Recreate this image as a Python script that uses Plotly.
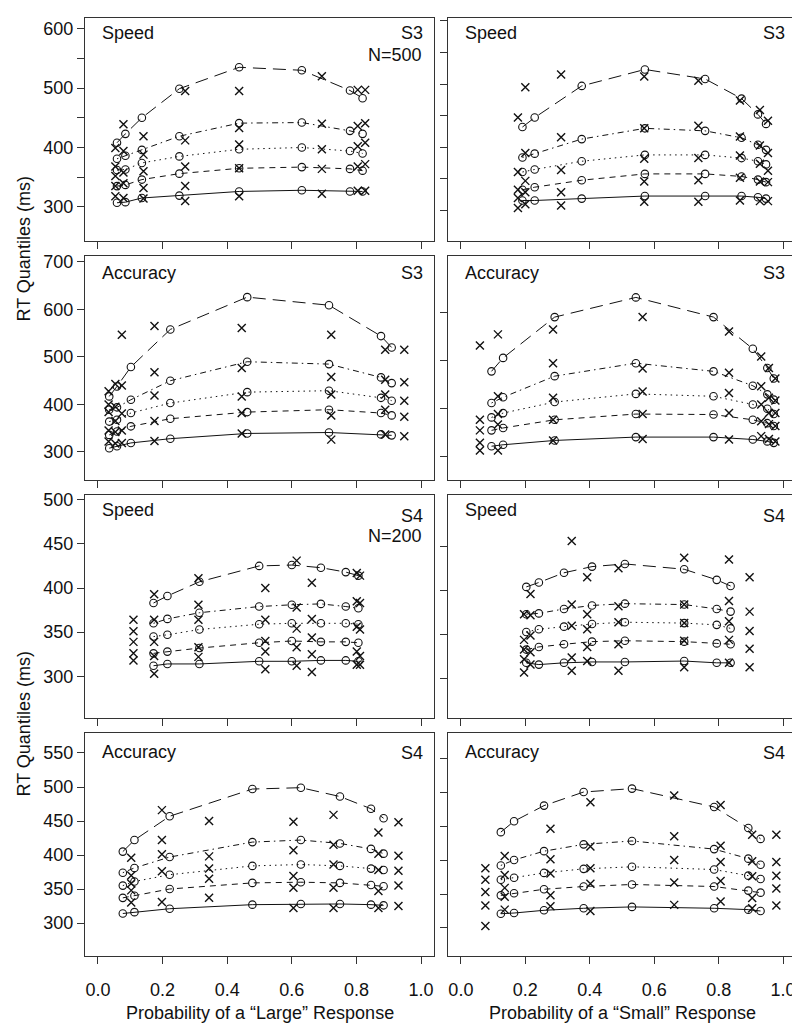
import plotly.graph_objects as go

# ---------------- data (quantiles per condition: .1 .3 .5 .7 .9) ----------------
quantile_levels = [0.1, 0.3, 0.5, 0.7, 0.9]

# Row 1 left: S3 Speed, "Large"
s3_speed_large_model_p = [0.059, 0.085, 0.136, 0.252, 0.437, 0.631, 0.780, 0.819]
s3_speed_large_model_q = [[307, 335, 362, 381, 408], [308, 337, 363, 386, 423], [315, 346, 374, 396, 450],
                          [319, 356, 385, 419, 499], [326, 365, 397, 441, 535], [328, 367, 400, 442, 530],
                          [326, 364, 394, 428, 496], [326, 361, 390, 423, 483]]
s3_speed_large_data_p = [0.054, 0.079, 0.141, 0.270, 0.437, 0.693, 0.804, 0.827]
s3_speed_large_data_q = [[318, 335, 352, 368, 399], [315, 340, 358, 394, 439], [314, 332, 360, 388, 419],
                         [310, 335, 368, 412, 495], [318, 365, 405, 433, 495], [322, 364, 397, 440, 520],
                         [327, 368, 402, 436, 497], [327, 372, 408, 441, 497]]

# Row 1 right: S3 Speed, "Small"
s3_speed_small_model_p = [0.191, 0.229, 0.375, 0.571, 0.758, 0.871, 0.922, 0.947]
s3_speed_small_model_q = [[316, 333, 361, 384, 432], [316, 337, 365, 390, 447], [319, 348, 378, 413, 497],
                          [323, 358, 388, 430, 523], [323, 358, 388, 426, 508], [323, 354, 383, 415, 477],
                          [321, 349, 378, 404, 452], [319, 345, 373, 396, 437]]
s3_speed_small_data_p = [0.177, 0.200, 0.311, 0.569, 0.737, 0.866, 0.928, 0.953]
s3_speed_small_data_q = [[304, 320, 333, 361, 447], [310, 329, 347, 391, 495], [308, 329, 364, 416, 515],
                         [314, 346, 382, 430, 512], [314, 348, 383, 434, 505], [316, 352, 387, 417, 474],
                         [315, 346, 374, 403, 459], [315, 345, 363, 391, 442]]

# Row 2 left: S3 Accuracy, "Large"
s3_acc_large_model_p = [0.035, 0.059, 0.102, 0.224, 0.462, 0.715, 0.876, 0.909]
s3_acc_large_model_q = [[308, 336, 364, 389, 417], [312, 343, 368, 394, 438], [319, 354, 382, 410, 479],
                        [328, 370, 403, 450, 558], [339, 384, 426, 490, 626], [341, 389, 429, 485, 609],
                        [337, 382, 414, 457, 544], [335, 377, 408, 445, 520]]
s3_acc_large_data_p = [0.033, 0.054, 0.074, 0.175, 0.445, 0.722, 0.889, 0.948]
s3_acc_large_data_q = [[322, 345, 384, 400, 428], [318, 342, 365, 395, 443], [319, 345, 381, 440, 547],
                       [323, 365, 419, 468, 565], [339, 382, 417, 477, 561], [326, 377, 421, 458, 547],
                       [337, 389, 421, 452, 515], [333, 374, 408, 447, 515]]

# Row 2 right: S3 Accuracy, "Small"
s3_acc_small_model_p = [0.095, 0.131, 0.291, 0.543, 0.784, 0.906, 0.951, 0.971]
s3_acc_small_model_q = [[321, 354, 381, 411, 477], [324, 359, 390, 423, 505], [333, 376, 413, 467, 590],
                        [340, 388, 430, 494, 631], [340, 387, 425, 477, 590], [335, 376, 408, 447, 524],
                        [331, 369, 399, 429, 484], [328, 363, 388, 418, 462]]
s3_acc_small_data_p = [0.059, 0.115, 0.286, 0.564, 0.832, 0.932, 0.956, 0.976]
s3_acc_small_data_q = [[312, 328, 354, 376, 531], [312, 366, 388, 425, 554], [333, 376, 422, 494, 564],
                       [336, 388, 435, 483, 590], [335, 390, 432, 474, 560], [342, 373, 408, 446, 508],
                       [336, 367, 390, 422, 484], [331, 363, 390, 416, 462]]

# Row 3 left: S4 Speed, "Large"
s4_speed_large_model_p = [0.172, 0.215, 0.314, 0.499, 0.600, 0.690, 0.767, 0.806]
s4_speed_large_model_q = [[312, 326, 345, 360, 383], [314, 328, 347, 365, 391], [314, 332, 353, 372, 407],
                          [317, 338, 359, 379, 425], [317, 340, 360, 381, 426], [318, 339, 360, 382, 423],
                          [318, 339, 360, 379, 418], [317, 338, 359, 377, 414]]
s4_speed_large_data_p = [0.110, 0.174, 0.311, 0.518, 0.615, 0.662, 0.801, 0.811]
s4_speed_large_data_q = [[318, 326, 339, 351, 364], [303, 323, 339, 364, 393], [322, 333, 364, 381, 411],
                         [308, 328, 340, 364, 400], [312, 333, 354, 378, 431], [305, 325, 344, 365, 406],
                         [313, 328, 356, 385, 417], [313, 323, 353, 383, 414]]

# Row 3 right: S4 Speed, "Small"
s4_speed_small_model_p = [0.203, 0.242, 0.320, 0.407, 0.509, 0.693, 0.794, 0.837]
s4_speed_small_model_q = [[318, 333, 353, 373, 404], [316, 336, 356, 374, 409], [318, 339, 359, 379, 420],
                          [319, 342, 362, 383, 427], [319, 343, 364, 385, 430], [320, 342, 363, 384, 424],
                          [318, 340, 361, 379, 412], [318, 339, 357, 376, 405]]
s4_speed_small_data_p = [0.196, 0.216, 0.344, 0.392, 0.489, 0.693, 0.832, 0.896]
s4_speed_small_data_q = [[307, 322, 333, 344, 373], [316, 330, 349, 372, 396], [309, 324, 360, 384, 456],
                         [320, 336, 356, 373, 415], [309, 339, 364, 382, 425], [313, 343, 363, 384, 437],
                         [318, 344, 365, 388, 435], [313, 334, 354, 376, 415]]

# Row 4 left: S4 Accuracy, "Large"
s4_acc_large_model_p = [0.077, 0.113, 0.222, 0.478, 0.628, 0.749, 0.845, 0.884]
s4_acc_large_model_q = [[314, 337, 355, 374, 405], [316, 340, 361, 381, 422], [321, 350, 371, 397, 457],
                        [327, 359, 384, 419, 497], [328, 360, 386, 422, 499], [328, 359, 384, 417, 486],
                        [327, 356, 380, 409, 468], [326, 354, 378, 402, 454]]
s4_acc_large_data_p = [0.103, 0.198, 0.344, 0.605, 0.729, 0.868, 0.930]
s4_acc_large_data_q = [[330, 348, 358, 370, 396], [331, 376, 401, 422, 466], [337, 365, 380, 398, 450],
                       [322, 352, 369, 407, 449], [322, 352, 386, 415, 459], [322, 347, 378, 402, 433],
                       [325, 355, 377, 399, 448]]

# Row 4 right: S4 Accuracy, "Small"
s4_acc_small_model_p = [0.124, 0.165, 0.258, 0.381, 0.531, 0.786, 0.892, 0.930]
s4_acc_small_model_q = [[321, 348, 371, 392, 441], [322, 351, 374, 400, 457], [326, 357, 381, 413, 480],
                        [329, 361, 387, 423, 500], [331, 364, 390, 428, 505], [329, 361, 386, 416, 478],
                        [327, 355, 377, 402, 447], [325, 352, 372, 393, 431]]
s4_acc_small_data_p = [0.076, 0.136, 0.278, 0.402, 0.662, 0.806, 0.904, 0.979]
s4_acc_small_data_q = [[303, 333, 353, 371, 388], [327, 346, 359, 378, 406], [332, 348, 380, 401, 446],
                       [325, 365, 388, 420, 485], [334, 367, 400, 435, 495], [339, 369, 397, 421, 481],
                       [329, 344, 376, 398, 437], [333, 358, 377, 397, 437]]

x_tick_vals = [0.0, 0.2, 0.4, 0.6, 0.8, 1.0]
x_tick_text = ["0.0", "0.2", "0.4", "0.6", "0.8", "1.0"]
x_axis_titles = ["Probability of a \u201cLarge\u201d Response", "Probability of a \u201cSmall\u201d Response"]
y_axis_title = "RT Quantiles (ms)"
condition_labels = ["Speed", "Speed", "Accuracy", "Accuracy", "Speed", "Speed", "Accuracy", "Accuracy"]
subject_labels = ["S3", "S3", "S3", "S3", "S4", "S4", "S4", "S4"]

# ---------------- styling / layout ----------------
W, H = 800, 1024
FONT = "Liberation Sans, Arial, Helvetica, sans-serif"
INK = "#111111"
dashes = ["solid", "6px,5px", "1.5px,4px", "1.5px,4px,6px,4px", "13px,7px"]

col_px = [(77, 426), (440, 788)]
row_px = [(10, 233), (248, 472), (487, 710), (725, 948)]

panels = [
    dict(mp=s3_speed_large_model_p, mq=s3_speed_large_model_q, dp=s3_speed_large_data_p, dq=s3_speed_large_data_q,
         yr=[242.6, 618.0], ytv=[300, 350, 400, 450, 500, 550, 600], ylab=[300, 400, 500, 600]),
    dict(mp=s3_speed_small_model_p, mq=s3_speed_small_model_q, dp=s3_speed_small_data_p, dq=s3_speed_small_data_q,
         yr=[252.0, 604.3], ytv=[300, 350, 400, 450, 500, 550, 600], ylab=[]),
    dict(mp=s3_acc_large_model_p, mq=s3_acc_large_model_q, dp=s3_acc_large_data_p, dq=s3_acc_large_data_q,
         yr=[241.0, 712.6], ytv=[300, 400, 500, 600, 700], ylab=[300, 400, 500, 600, 700]),
    dict(mp=s3_acc_small_model_p, mq=s3_acc_small_model_q, dp=s3_acc_small_data_p, dq=s3_acc_small_data_q,
         yr=[250.6, 717.3], ytv=[300, 400, 500, 600], ylab=[]),
    dict(mp=s4_speed_large_model_p, mq=s4_speed_large_model_q, dp=s4_speed_large_data_p, dq=s4_speed_large_data_q,
         yr=[252.8, 505.3], ytv=[300, 350, 400, 450, 500], ylab=[300, 350, 400, 450, 500]),
    dict(mp=s4_speed_small_model_p, mq=s4_speed_small_model_q, dp=s4_speed_small_data_p, dq=s4_speed_small_data_q,
         yr=[255.5, 508.1], ytv=[300, 350, 400, 450], ylab=[]),
    dict(mp=s4_acc_large_model_p, mq=s4_acc_large_model_q, dp=s4_acc_large_data_p, dq=s4_acc_large_data_q,
         yr=[251.5, 579.4], ytv=[300, 350, 400, 450, 500, 550], ylab=[300, 350, 400, 450, 500, 550]),
    dict(mp=s4_acc_small_model_p, mq=s4_acc_small_model_q, dp=s4_acc_small_data_p, dq=s4_acc_small_data_q,
         yr=[258.8, 586.8], ytv=[300, 350, 400, 450, 500, 550], ylab=[]),
]

fig = go.Figure()
layout = dict(width=W, height=H, margin=dict(l=0, r=0, t=0, b=0), showlegend=False,
              plot_bgcolor="white", paper_bgcolor="white",
              font=dict(family=FONT, size=18, color=INK))
annotations = []

for i, p in enumerate(panels):
    r, c = divmod(i, 2)
    k = i + 1
    xs = "" if k == 1 else str(k)
    xref, yref = "x" + xs, "y" + xs
    x0, x1 = col_px[c]
    y0, y1 = row_px[r]

    for j in range(len(quantile_levels)):
        fig.add_trace(go.Scatter(
            x=p["mp"], y=[row[j] for row in p["mq"]], xaxis=xref, yaxis=yref,
            mode="lines+markers",
            line=dict(color=INK, width=1, dash=dashes[j]),
            marker=dict(symbol="circle-open", size=7.5, color=INK, line=dict(width=1.1, color=INK)),
            hoverinfo="skip"))
        fig.add_trace(go.Scatter(
            x=p["dp"], y=[row[j] for row in p["dq"]], xaxis=xref, yaxis=yref,
            mode="markers",
            marker=dict(symbol="x-thin-open", size=8, color=INK, line=dict(width=1.4, color=INK)),
            hoverinfo="skip"))

    common = dict(showline=True, mirror=True, linecolor="#333333", linewidth=1,
                  showgrid=False, zeroline=False, ticks="outside", ticklen=7,
                  tickwidth=1, tickcolor="#333333", automargin=False,
                  tickfont=dict(family=FONT, size=18, color=INK))
    layout["xaxis" + xs] = dict(common, domain=[x0 / W, x1 / W], range=[-0.04, 1.04],
                                anchor=yref, tickvals=x_tick_vals,
                                ticktext=x_tick_text if r == 3 else [""] * len(x_tick_vals),
                                ticklabelstandoff=10)
    layout["yaxis" + xs] = dict(common, domain=[1 - y1 / H, 1 - y0 / H], range=p["yr"],
                                anchor=xref, tickvals=p["ytv"],
                                ticktext=[str(v) if v in p["ylab"] else "" for v in p["ytv"]])

    # in-panel labels
    text_y = {0: (25, 25), 1: (265, 265), 2: (502, 508), 3: (744, 745)}[r]
    annotations.append(dict(text=condition_labels[i], x=(x0 + 15) / W, y=1 - text_y[0] / H,
                            xref="paper", yref="paper", xanchor="left", yanchor="middle",
                            showarrow=False, font=dict(size=18)))
    annotations.append(dict(text=subject_labels[i], x=(x1 - 9) / W, y=1 - text_y[1] / H,
                            xref="paper", yref="paper", xanchor="right", yanchor="middle",
                            showarrow=False, font=dict(size=18)))

annotations.append(dict(text="N=500", x=(426 - 10) / W, y=1 - 46.5 / H, xref="paper", yref="paper",
                        xanchor="right", yanchor="middle", showarrow=False, font=dict(size=18)))
annotations.append(dict(text="N=200", x=(426 - 10) / W, y=1 - 528 / H, xref="paper", yref="paper",
                        xanchor="right", yanchor="middle", showarrow=False, font=dict(size=18)))

for yc in (241, 716):
    annotations.append(dict(text=y_axis_title, x=15.5 / W, y=1 - yc / H, xref="paper", yref="paper",
                            xanchor="center", yanchor="middle", textangle=-90, showarrow=False,
                            font=dict(size=18)))
for c in range(2):
    annotations.append(dict(text=x_axis_titles[c], x=(col_px[c][0] + col_px[c][1]) / 2 / W, y=1 - 1005 / H,
                            xref="paper", yref="paper", xanchor="center", yanchor="middle",
                            showarrow=False, font=dict(size=18)))

layout["annotations"] = annotations
fig.update_layout(**layout)
fig.write_html("out.html")
